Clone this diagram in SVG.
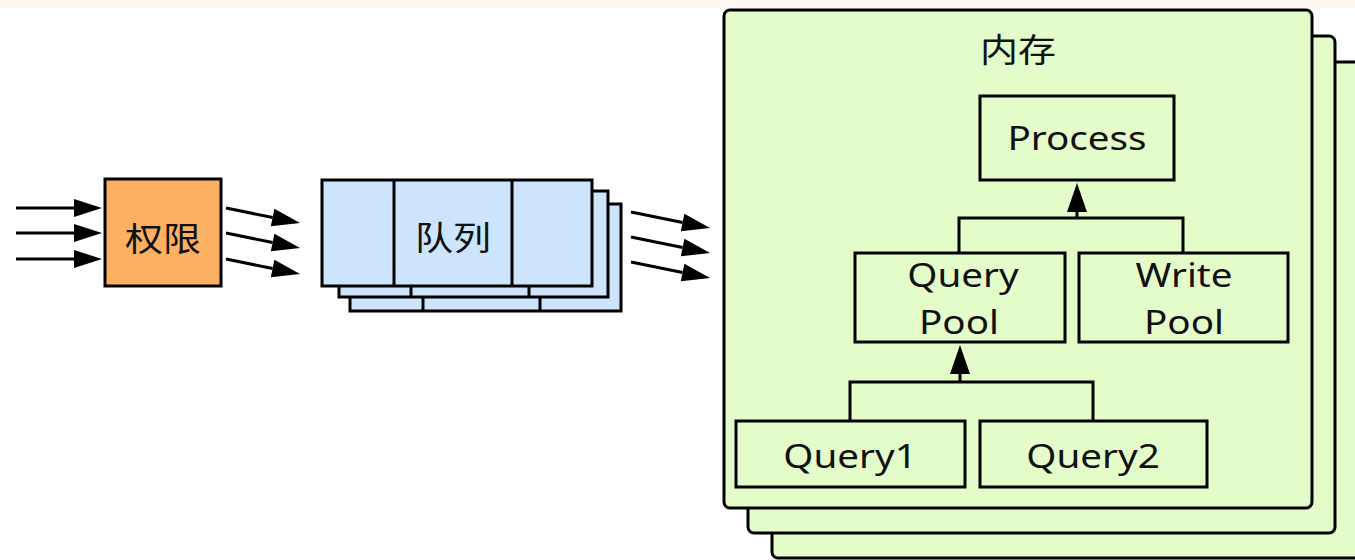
<svg xmlns="http://www.w3.org/2000/svg" width="1355" height="560" viewBox="0 0 1355 560">
  <style>
    .box { stroke: #000; stroke-width: 3; }
    .perm { fill: #fdb062; }
    .queue { fill: #cce4fc; }
    .mem { fill: #e3fcc9; }
    .node { fill: #e3fcc9; stroke: #000; stroke-width: 3; }
    .wire { fill: none; stroke: #000; stroke-width: 3; }
    .lbl { font-family: "Noto Sans", "Noto Sans CJK SC", sans-serif; font-size: 33px; fill: #111; text-anchor: middle; }
    .cjk { font-family: "Noto Sans CJK SC", sans-serif; font-size: 33px; fill: #111; text-anchor: middle; }
  </style>
  <defs>
    <!-- flow arrowhead, drawn forward from the end of its line -->
    <marker id="ah" markerUnits="userSpaceOnUse" markerWidth="28" markerHeight="18" refX="0" refY="9" orient="auto" overflow="visible">
      <path d="M0,0 L28,9 L0,18 Z" fill="#000"/>
    </marker>
    <!-- tree arrowhead, slightly wider -->
    <marker id="ah2" markerUnits="userSpaceOnUse" markerWidth="29" markerHeight="20" refX="0" refY="10" orient="auto" overflow="visible">
      <path d="M0,0 L29,10 L0,20 Z" fill="#000"/>
    </marker>
  </defs>

  <rect x="0" y="0" width="1355" height="560" fill="#ffffff"/>
  <rect x="0" y="0" width="1355" height="8" fill="#fdf8f1"/>

  <!-- permission check -->
  <g id="perm">
    <rect class="box perm" x="105" y="179" width="116" height="107"/>
    <text class="cjk" transform="translate(163,251) scale(1.15,1)">权限</text>
  </g>

  <!-- stacked queues -->
  <g id="queue">
    <rect class="box queue" x="350" y="204" width="271" height="107"/>
    <line class="wire" x1="423" y1="204" x2="423" y2="311"/>
    <line class="wire" x1="540" y1="204" x2="540" y2="311"/>
    <rect class="box queue" x="339" y="191" width="269" height="106"/>
    <line class="wire" x1="411" y1="191" x2="411" y2="297"/>
    <line class="wire" x1="529" y1="191" x2="529" y2="297"/>
    <rect class="box queue" x="322" y="180" width="270" height="106"/>
    <line class="wire" x1="394" y1="180" x2="394" y2="286"/>
    <line class="wire" x1="512" y1="180" x2="512" y2="286"/>
    <text class="cjk" transform="translate(453,250) scale(1.15,1)">队列</text>
  </g>

  <!-- memory frames -->
  <g id="memory">
    <rect class="box mem" x="772" y="62" width="600" height="496" rx="6"/>
    <rect class="box mem" x="748" y="36" width="587" height="497" rx="6"/>
    <rect class="box mem" x="724" y="10" width="588" height="498" rx="6"/>
    <text class="cjk" transform="translate(1018,62) scale(1.15,1)">内存</text>
  </g>

  <g id="process">
    <rect class="node" x="980" y="96" width="194" height="84"/>
    <text class="lbl" transform="translate(1077,150) scale(1.17,1)">Process</text>
  </g>

  <g id="query-pool">
    <rect class="node" x="855" y="253" width="210" height="89"/>
    <text class="lbl" transform="translate(963,287) scale(1.17,1)">Query</text>
    <text class="lbl" transform="translate(959,334) scale(1.17,1)">Pool</text>
  </g>

  <g id="write-pool">
    <rect class="node" x="1079" y="253" width="209" height="89"/>
    <text class="lbl" transform="translate(1184,287) scale(1.17,1)">Write</text>
    <text class="lbl" transform="translate(1184,334) scale(1.17,1)">Pool</text>
  </g>

  <g id="query1">
    <rect class="node" x="736" y="421" width="229" height="66"/>
    <text class="lbl" transform="translate(850,468) scale(1.17,1)">Query1</text>
  </g>

  <g id="query2">
    <rect class="node" x="980" y="421" width="227" height="66"/>
    <text class="lbl" transform="translate(1093,468) scale(1.17,1)">Query2</text>
  </g>

  <!-- connectors -->
  <g id="connectors">
    <line class="wire" x1="16" y1="208" x2="74" y2="208" marker-end="url(#ah)"/>
    <line class="wire" x1="16" y1="233" x2="74" y2="233" marker-end="url(#ah)"/>
    <line class="wire" x1="16" y1="259" x2="74" y2="259" marker-end="url(#ah)"/>

    <line class="wire" x1="226" y1="208" x2="272.6" y2="217.5" marker-end="url(#ah)"/>
    <line class="wire" x1="226" y1="233" x2="272.6" y2="242.5" marker-end="url(#ah)"/>
    <line class="wire" x1="226" y1="259" x2="272.6" y2="268.5" marker-end="url(#ah)"/>

    <line class="wire" x1="631" y1="212" x2="682.6" y2="222.5" marker-end="url(#ah)"/>
    <line class="wire" x1="631" y1="237" x2="682.6" y2="247.5" marker-end="url(#ah)"/>
    <line class="wire" x1="631" y1="262" x2="682.6" y2="272.5" marker-end="url(#ah)"/>

    <path class="wire" d="M959,253 V218 H1183 V253"/>
    <line class="wire" x1="1077" y1="218" x2="1077" y2="212" marker-end="url(#ah2)"/>

    <path class="wire" d="M850,421 V382 H1093 V421"/>
    <line class="wire" x1="960" y1="382" x2="960" y2="374" marker-end="url(#ah2)"/>
  </g>
</svg>
